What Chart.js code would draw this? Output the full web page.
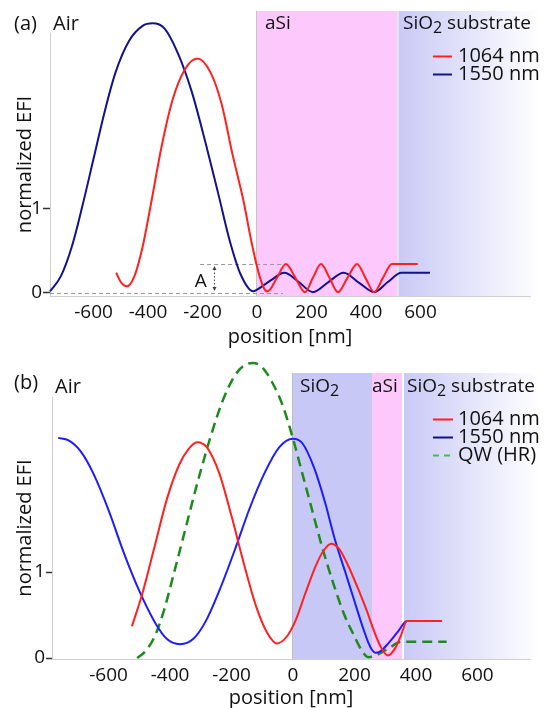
<!DOCTYPE html>
<html>
<head>
<meta charset="utf-8">
<script src="https://cdn.jsdelivr.net/npm/chart.js@4.4.1/dist/chart.umd.min.js"></script>
<style>
  html, body { margin: 0; padding: 0; background: #fff; }
  #wrap { position: relative; width: 553px; height: 708px; overflow: hidden; }
  #chartA { position: absolute; left: 0; top: 0; }
  #chartB { position: absolute; left: 0; top: 340px; }
</style>
</head>
<body>
<div id="wrap">
  <canvas id="chartA" width="553" height="350"></canvas>
  <canvas id="chartB" width="553" height="368"></canvas>
</div>
<script>
// ===== axis ticks (both panels) =====
const xTicks = [-600, -400, -200, 0, 200, 400, 600];
const yTicks = [0, 1];

// ===== (a) aSi single layer on SiO2 substrate =====
const posA1064 = [-517, -500, -477, -450, -420, -390, -350, -310, -265, -219, -170, -130, -90, -50, -20, 5, 25, 39,
                  73, 106, 141, 176, 205, 235, 266, 297, 332, 367, 398, 430, 462, 495, 590];
const efiA1064 = [0.24, 0.13, 0.08, 0.2, 0.55, 1.05, 1.75, 2.3, 2.66, 2.79, 2.62, 2.25, 1.65, 1.1, 0.6, 0.25, 0.06, 0.02,
                  0.18, 0.345, 0.18, 0.01, 0.18, 0.345, 0.18, 0.01, 0.18, 0.345, 0.18, 0.01, 0.18, 0.345, 0.345];
const posA1550 = [-760, -720, -680, -640, -600, -560, -520, -470, -420, -383, -340, -290, -240, -190, -140, -100, -60, -14,
                  0, 50, 100, 150, 205, 262, 318, 375, 430, 480, 530, 635];
const efiA1550 = [0.02, 0.2, 0.55, 1.05, 1.6, 2.15, 2.62, 3.0, 3.18, 3.21, 3.15, 2.85, 2.4, 1.8, 1.15, 0.62, 0.22, 0.02,
                  0.04, 0.15, 0.24, 0.14, 0.01, 0.13, 0.24, 0.12, 0.01, 0.13, 0.24, 0.24];
const edgesA = [0, 517, 1038];       // aSi | substrate (nm)
const guideLevelsA = [0, 0.345];     // dashed lines C and A

// ===== (b) SiO2 / aSi stack on SiO2 substrate =====
const posB1064 = [-524, -490, -450, -410, -370, -340, -312, -280, -240, -200, -160, -120, -85, -52, -20, 10,
                  40, 75, 100, 124, 150, 180, 210, 240, 265, 290, 309, 330, 350, 371, 485];
const efiB1064 = [0.37, 0.75, 1.3, 1.85, 2.25, 2.43, 2.51, 2.45, 2.15, 1.65, 1.1, 0.6, 0.3, 0.17, 0.25, 0.45,
                  0.75, 1.08, 1.25, 1.33, 1.27, 1.07, 0.82, 0.55, 0.3, 0.1, 0.03, 0.1, 0.25, 0.43, 0.43];
const posB1550 = [-764, -730, -690, -650, -600, -550, -500, -450, -410, -367, -325, -285, -240, -190, -140, -90, -45, 0,
                  30, 70, 105, 137, 170, 200, 225, 245, 258, 268, 285, 310, 340, 371, 485];
const efiB1550 = [2.56, 2.53, 2.4, 2.15, 1.72, 1.22, 0.78, 0.42, 0.22, 0.16, 0.22, 0.42, 0.78, 1.25, 1.75, 2.17, 2.45, 2.55,
                  2.5, 2.2, 1.8, 1.37, 1.0, 0.66, 0.38, 0.18, 0.09, 0.06, 0.08, 0.17, 0.3, 0.43, 0.43];
const posBQW = [-507, -480, -450, -420, -390, -350, -310, -270, -230, -190, -160, -130, -100, -70, -35, 0,
                30, 60, 94, 130, 165, 200, 225, 245, 275, 310, 354, 500];
const efiBQW = [0, 0.08, 0.25, 0.55, 0.95, 1.5, 2.05, 2.55, 2.98, 3.28, 3.4, 3.43, 3.38, 3.22, 2.95, 2.55,
                2.15, 1.75, 1.3, 0.88, 0.52, 0.25, 0.08, 0.01, 0.04, 0.11, 0.19, 0.19];
const edgesB = [0, 257, 358, 803];   // SiO2 | aSi | substrate (nm)

const FONT = "'Open Sans', sans-serif";
const INK = '#111';
Chart.defaults.font.family = FONT;
Chart.defaults.color = INK;

const toXY = (xs, ys) => xs.map((x, i) => ({ x: x, y: ys[i] }));

function line(label, xs, ys, color, extra) {
    return Object.assign({
        label: label,
        data: toXY(xs, ys),
        borderColor: color,
        borderWidth: 2,
        pointRadius: 0,
        fill: false,
        cubicInterpolationMode: 'monotone',
        clip: false
    }, extra || {});
}

// draws text pieces; a piece with sub:true is a subscript
function drawRich(ctx, x, y, parts, size) {
    ctx.textBaseline = 'middle';
    ctx.textAlign = 'left';
    parts.forEach(p => {
        const s = p.sub ? size - 3 : size;
        ctx.font = s + 'px ' + FONT;
        ctx.fillText(p.t, x, y + (p.sub ? 4 : 0));
        x += ctx.measureText(p.t).width;
    });
}

// layer shading, guides, in-plot labels and legend
function makeDecor(cfg) {
    return {
        id: 'decor',
        beforeDraw(chart) {
            const { ctx, chartArea, scales: { x, y } } = chart;
            const top = y.getPixelForValue(cfg.shadeTop);
            const bottom = chartArea.bottom;
            ctx.save();
            cfg.regions.forEach(r => {
                const x0 = x.getPixelForValue(r.from);
                const x1 = x.getPixelForValue(r.to);
                if (r.fade) {
                    const g = ctx.createLinearGradient(x0, 0, x1, 0);
                    g.addColorStop(0, r.color);
                    g.addColorStop(1, '#ffffff');
                    ctx.fillStyle = g;
                } else {
                    ctx.fillStyle = r.color;
                }
                ctx.fillRect(x0, top, x1 - x0, bottom - top);
                if (r.edge) {
                    ctx.fillStyle = r.edge;
                    ctx.fillRect(Math.round(x0) - 1, top, r.edgeWidth || 1, bottom - top);
                }
            });
            ctx.restore();
        },
        beforeDatasetsDraw(chart) {
            if (!cfg.guides) return;
            const { ctx, scales: { x, y } } = chart;
            const gd = cfg.guides;
            ctx.save();
            ctx.strokeStyle = '#9a9a9a';
            ctx.lineWidth = 1;
            ctx.setLineDash([4, 3]);
            gd.lines.forEach(l => {
                const py = Math.round(y.getPixelForValue(l.level)) + 0.5;
                ctx.beginPath();
                ctx.moveTo(x.getPixelForValue(l.from), py);
                ctx.lineTo(x.getPixelForValue(l.to), py);
                ctx.stroke();
            });
            // small dotted double arrow
            const ax = Math.round(x.getPixelForValue(gd.arrow.at)) + 0.5;
            const ay0 = y.getPixelForValue(gd.arrow.top) + 2;
            const ay1 = y.getPixelForValue(gd.arrow.bottom) - 2;
            ctx.strokeStyle = '#444';
            ctx.setLineDash([1.5, 2]);
            ctx.beginPath();
            ctx.moveTo(ax, ay0 + 3);
            ctx.lineTo(ax, ay1 - 3);
            ctx.stroke();
            ctx.setLineDash([]);
            ctx.fillStyle = '#444';
            ctx.beginPath();
            ctx.moveTo(ax, ay0); ctx.lineTo(ax - 2, ay0 + 4); ctx.lineTo(ax + 2, ay0 + 4);
            ctx.closePath(); ctx.fill();
            ctx.beginPath();
            ctx.moveTo(ax, ay1); ctx.lineTo(ax - 2, ay1 - 4); ctx.lineTo(ax + 2, ay1 - 4);
            ctx.closePath(); ctx.fill();
            ctx.fillStyle = INK;
            ctx.font = '19px ' + FONT;
            ctx.textAlign = 'center';
            ctx.textBaseline = 'middle';
            ctx.fillText(gd.text.t, x.getPixelForValue(gd.text.x), y.getPixelForValue(gd.text.y));
            ctx.restore();
        },
        afterDraw(chart) {
            const ctx = chart.ctx;
            ctx.save();
            ctx.fillStyle = INK;
            cfg.labels.forEach(l => drawRich(ctx, l.x, l.y, l.parts, l.size));
            const lg = cfg.legend;
            chart.data.datasets.forEach((ds, i) => {
                const py = lg.y + i * lg.gap;
                ctx.strokeStyle = ds.legendColor || ds.borderColor;
                ctx.lineWidth = 2;
                ctx.setLineDash(ds.legendDash || []);
                ctx.beginPath();
                ctx.moveTo(lg.x0, py + 0.5);
                ctx.lineTo(lg.x1, py + 0.5);
                ctx.stroke();
                ctx.setLineDash([]);
                ctx.fillStyle = INK;
                drawRich(ctx, lg.tx, py, [{ t: ds.label }], 20);
            });
            ctx.restore();
        }
    };
}

function axes(cfg) {
    return {
        x: {
            type: 'linear',
            min: cfg.xMin, max: cfg.xMax,
            afterBuildTicks: s => { s.ticks = xTicks.map(v => ({ value: v })); },
            afterFit: s => { s.height = cfg.xHeight; },
            grid: { display: false, drawTicks: false },
            border: { display: true, color: '#cfcfcf', width: 1 },
            ticks: { padding: 5, autoSkip: false, maxRotation: 0, color: INK,
                     font: { size: 19 }, callback: v => String(v) },
            title: { display: true, text: 'position [nm]', color: INK,
                     font: { size: 20, lineHeight: 1 }, padding: { top: 0, bottom: cfg.titlePad } }
        },
        y: {
            min: cfg.yMin, max: cfg.yMax,
            afterBuildTicks: s => { s.ticks = yTicks.map(v => ({ value: v })); },
            afterFit: s => { s.width = cfg.yWidth; },
            grid: { display: true, drawOnChartArea: false, drawTicks: true,
                    tickLength: cfg.tickLen, tickColor: '#333', tickWidth: 1.5 },
            border: { display: true, color: '#cfcfcf', width: 1 },
            ticks: { padding: 1, color: INK, font: { size: 19 }, callback: v => String(v) },
            title: { display: true, text: 'normalized EFI', color: INK,
                     font: { size: 20, lineHeight: 1 }, padding: { top: 15, bottom: 0 } }
        }
    };
}

const baseOptions = {
    responsive: false,
    animation: false,
    events: [],
    plugins: { legend: { display: false }, tooltip: { enabled: false } }
};

// ---------- panel (a) ----------
new Chart(document.getElementById('chartA'), {
    type: 'line',
    data: {
        datasets: [
            line('1064 nm', posA1064, efiA1064, '#ff2020'),
            line('1550 nm', posA1550, efiA1550, '#12128c')
        ]
    },
    options: Object.assign({}, baseOptions, {
        layout: { padding: { top: 33, right: 23, left: 0, bottom: 0 } },
        scales: axes({ xMin: -760, xMax: 1002, yMin: -0.036, yMax: 3.095,
                       xHeight: 54, yWidth: 50, titlePad: 3, tickLen: 7 })
    }),
    plugins: [makeDecor({
        shadeTop: 3.357,
        regions: [
            { from: edgesA[0], to: edgesA[1], color: '#fdc9fd', edge: '#c4c4c4' },
            { from: edgesA[1], to: edgesA[2], color: '#c9c9f7', fade: true, edge: '#e4e4ec', edgeWidth: 2 }
        ],
        guides: {
            lines: [
                { level: guideLevelsA[0], from: -760, to: 95 },
                { level: guideLevelsA[1], from: -209, to: 95 }
            ],
            arrow: { at: -158, top: guideLevelsA[1], bottom: guideLevelsA[0] },
            text: { t: 'A', x: -207, y: 0.14 }
        },
        labels: [
            { x: 14, y: 24, size: 20, parts: [{ t: '(a)' }] },
            { x: 53, y: 24, size: 20, parts: [{ t: 'Air' }] },
            { x: 265, y: 24, size: 19, parts: [{ t: 'aSi' }] },
            { x: 403, y: 24, size: 19, parts: [{ t: 'SiO' }, { t: '2', sub: true }, { t: ' substrate' }] }
        ],
        legend: { x0: 433, x1: 452, tx: 458, y: 56, gap: 18 }
    })]
});

// ---------- panel (b) ----------
new Chart(document.getElementById('chartB'), {
    type: 'line',
    data: {
        datasets: [
            line('1064 nm', posB1064, efiB1064, '#ff2020'),
            line('1550 nm', posB1550, efiB1550, '#1c1cff', { legendColor: '#10108a' }),
            line('QW (HR)', posBQW, efiBQW, '#1d8a1d',
                 { borderWidth: 2.5, borderDash: [10, 6], legendColor: '#3cc43c', legendDash: [6, 5] })
        ]
    },
    options: Object.assign({}, baseOptions, {
        layout: { padding: { top: 57, right: 23, left: 0, bottom: 0 } },
        scales: axes({ xMin: -784, xMax: 771, yMin: -0.0116, yMax: 3.035,
                       xHeight: 49, yWidth: 52, titlePad: 0, tickLen: 6 })
    }),
    plugins: [makeDecor({
        shadeTop: 3.314,
        regions: [
            { from: edgesB[0], to: edgesB[1], color: '#c8c8f6', edge: '#bdbdbd' },
            { from: edgesB[1], to: edgesB[2], color: '#fdc9fd' },
            { from: edgesB[2], to: edgesB[3], color: '#c9c9f7', fade: true, edge: '#ffffff', edgeWidth: 2 }
        ],
        labels: [
            { x: 14, y: 43, size: 20, parts: [{ t: '(b)' }] },
            { x: 55, y: 47, size: 20, parts: [{ t: 'Air' }] },
            { x: 300, y: 47, size: 19, parts: [{ t: 'SiO' }, { t: '2', sub: true }] },
            { x: 372, y: 47, size: 19, parts: [{ t: 'aSi' }] },
            { x: 407, y: 47, size: 19, parts: [{ t: 'SiO' }, { t: '2', sub: true }, { t: ' substrate' }] }
        ],
        legend: { x0: 433, x1: 453, tx: 458, y: 79, gap: 18 }
    })]
});
</script>
</body>
</html>
